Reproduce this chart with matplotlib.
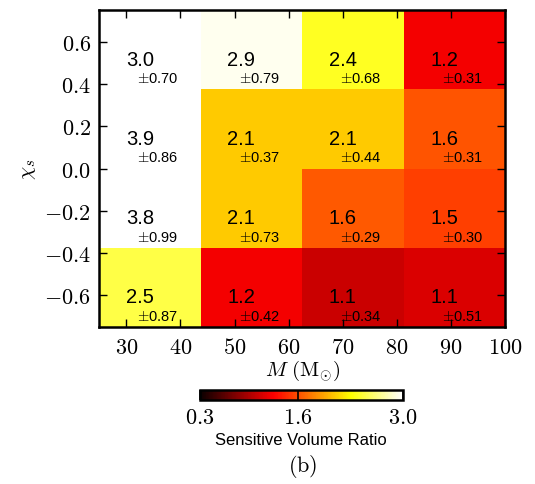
import matplotlib

matplotlib.use("Agg")
import matplotlib.pyplot as plt
from matplotlib.ticker import FuncFormatter

# bin edges of the grid
mass_edges = [25, 43.75, 62.5, 81.25, 100]
chi_edges = [-0.75, -0.375, 0.0, 0.375, 0.75]

# sensitive volume ratio, rows from lowest chi_s to highest
ratio = [
    [2.5, 1.24, 1.08, 1.14],
    [3.8, 2.1, 1.64, 1.54],
    [3.9, 2.1, 2.1, 1.62],
    [3.0, 2.949, 2.4, 1.24],
]
ratio_err = [
    [0.87, 0.42, 0.34, 0.51],
    [0.99, 0.73, 0.29, 0.30],
    [0.86, 0.37, 0.44, 0.31],
    [0.70, 0.79, 0.68, 0.31],
]

x_ticks = [30, 40, 50, 60, 70, 80, 90, 100]
y_ticks = [-0.6, -0.4, -0.2, 0.0, 0.2, 0.4, 0.6]
cbar_ticks = [0.3, 1.6, 3.0]

plt.rcParams["font.family"] = ["Liberation Sans", "DejaVu Sans"]
plt.rcParams["mathtext.fontset"] = "cm"

fig = plt.figure(figsize=(5.35, 4.85))
ax = fig.add_axes([0.1856, 0.3237, 0.7584, 0.6536])

mesh = ax.pcolormesh(mass_edges, chi_edges, ratio, cmap="hot", vmin=0.3, vmax=3.0,
                     shading="flat", edgecolors="none", antialiased=False)

for i in range(len(chi_edges) - 1):
    y0 = chi_edges[i]
    h = chi_edges[i + 1] - y0
    for j in range(len(mass_edges) - 1):
        x0 = mass_edges[j]
        w = mass_edges[j + 1] - x0
        ax.text(x0 + 0.262 * w, y0 + 0.38 * h, f"{ratio[i][j]:.1f}",
                fontsize=14.5, ha="left", va="center")
        ax.text(x0 + 0.375 * w, y0 + 0.14 * h, rf"$\pm${ratio_err[i][j]:.2f}",
                fontsize=10.5, ha="left", va="center")

ax.set_xlim(mass_edges[0], mass_edges[-1])
ax.set_ylim(chi_edges[0], chi_edges[-1])
ax.set_xticks(x_ticks)
ax.set_yticks(y_ticks)
ax.xaxis.set_major_formatter(FuncFormatter(lambda v, p: f"${v:.0f}$"))
ax.yaxis.set_major_formatter(FuncFormatter(lambda v, p: f"${v:.1f}$"))
ax.tick_params(direction="in", top=True, right=True, length=6, width=1,
               labelsize=16)
ax.tick_params(axis="x", pad=7)
ax.tick_params(axis="y", pad=6)
for sp in ax.spines.values():
    sp.set_linewidth(1.8)

ax.set_xlabel(r"$M\ (\mathrm{M}_{\odot})$", fontsize=15, labelpad=0)
ax.set_ylabel(r"$\chi_s$", fontsize=15, labelpad=4)

cax = fig.add_axes([0.3738, 0.1732, 0.379, 0.0206])
cb = fig.colorbar(mesh, cax=cax, orientation="horizontal", ticks=cbar_ticks)
cb.outline.set_linewidth(1.8)
cb.ax.xaxis.set_major_formatter(FuncFormatter(lambda v, p: f"${v:.1f}$"))
cb.ax.tick_params(direction="in", length=7.2, width=1.2, labelsize=16, pad=5)
cb.set_label("Sensitive Volume Ratio", fontsize=12, labelpad=3)

fig.text(0.566, 1 - 467 / 485, r"$(\mathrm{b})$", fontsize=16,
         ha="center", va="center")

fig.savefig("out.png", dpi=100)
plt.close(fig)
